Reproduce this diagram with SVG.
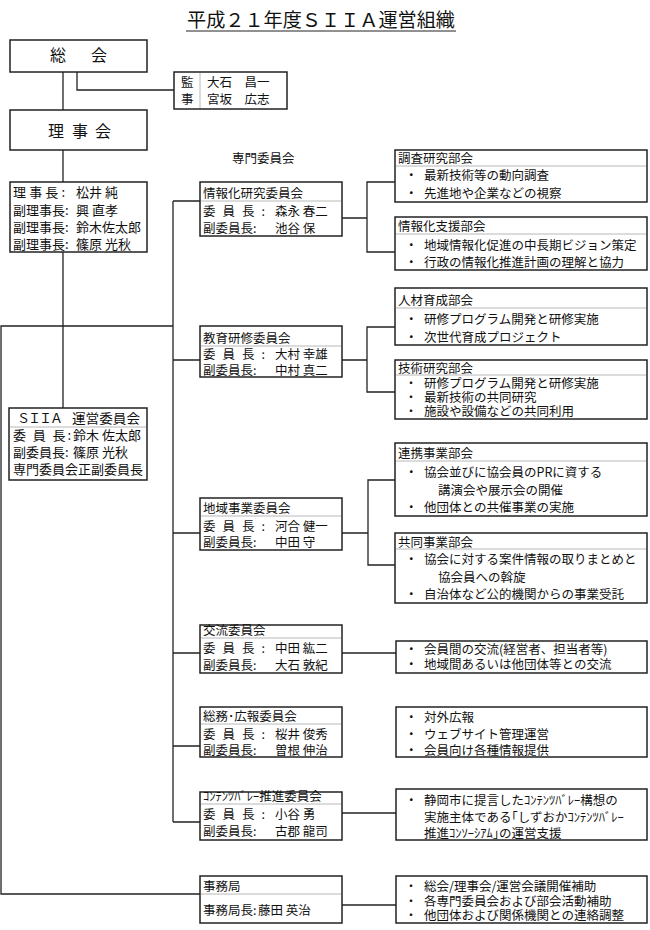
<svg xmlns="http://www.w3.org/2000/svg" width="650" height="930" viewBox="0 0 650 930">
<style>
.box{fill:#fff;stroke:#222;stroke-width:1.5}
.dv{stroke:#b8b8b8;stroke-width:1}
.ln{fill:none;stroke:#222;stroke-width:1.3}
text{font-family:"Noto Sans CJK JP","Noto Sans CJK SC",sans-serif;fill:#111;font-size:12.5px}
.l{font-size:13px}
.s{font-size:12px}
.big{font-size:16px}
.title{font-size:19px}
</style>
<rect width="650" height="930" fill="#fff"/>
<g id="title">
<text class="title" x="321" y="27" text-anchor="middle" textLength="268" lengthAdjust="spacingAndGlyphs">平成２１年度ＳＩＩＡ運営組織</text>
<line x1="186" y1="31" x2="456" y2="31" stroke="#222" stroke-width="1"/>
</g>
<g id="connectors" class="ln">
<path d="M77,72V90H174"/>
<path d="M63,72V110"/>
<path d="M63,150V182"/>
<path d="M63,252V408"/>
<path d="M173,326H1V894H200"/>
<path d="M173,201V822"/>
<path d="M173,201H200M173,360H200M173,533H200M173,653H200M173,746H200M173,822H200"/>
<path d="M342,218H367M395,182H367V252H395"/>
<path d="M342,360H367M395,327H367V392H395"/>
<path d="M342,533H368M395,480H368V565H395"/>
<path d="M342,653H396"/>
<path d="M342,813H396"/>
<path d="M342,905H396"/>
</g>
<g id="soukai">
<rect class="box" x="10" y="40" width="137" height="32"/>
<text class="big" x="50" y="61">総</text>
<text class="big" x="91" y="61">会</text>
</g>
<g id="kanji">
<rect class="box" x="174" y="72" width="113" height="37"/>
<line class="dv" x1="200" y1="73" x2="200" y2="108"/>
<text x="181" y="87">監</text>
<text x="181" y="104">事</text>
<text x="207" y="87">大石　昌一</text>
<text x="207" y="104">宮坂　広志</text>
</g>
<g id="rijikai">
<rect class="box" x="10" y="110" width="137" height="40"/>
<text class="big" x="48" y="137">理</text>
<text class="big" x="72" y="137">事</text>
<text class="big" x="95" y="137">会</text>
</g>
<g id="rijicho">
<rect class="box" x="10" y="182" width="137" height="70"/>
<text class="l" x="13" y="197" textLength="52" lengthAdjust="spacing">理 事 長 :</text>
<text class="l" x="76" y="197">松井 純</text>
<text class="l" x="13" y="215">副理事長:</text>
<text class="l" x="76" y="215">興 直孝</text>
<text class="l" x="13" y="232">副理事長:</text>
<text class="l" x="76" y="232">鈴木佐太郎</text>
<text class="l" x="13" y="249">副理事長:</text>
<text class="l" x="76" y="249">篠原 光秋</text>
</g>
<g id="siia">
<rect class="box" x="9" y="408" width="138" height="72"/>
<line class="dv" x1="10" y1="427" x2="146" y2="427"/>
<text class="l" x="17" y="423" textLength="46" lengthAdjust="spacing">ＳＩＩＡ</text>
<text class="l" x="72" y="423" textLength="68" lengthAdjust="spacingAndGlyphs">運営委員会</text>
<text class="l" x="13" y="440" textLength="58" lengthAdjust="spacing">委 員 長:</text>
<text class="l" x="73" y="440">鈴木 佐太郎</text>
<text class="l" x="13" y="457">副委員長:</text>
<text class="l" x="73" y="457">篠原 光秋</text>
<text class="l" x="13" y="474">専門委員会正副委員長</text>
</g>
<g id="senmon-label">
<text x="232" y="163">専門委員会</text>
</g>
<g id="jyohoka">
<rect class="box" x="200" y="182" width="142" height="54"/>
<line class="dv" x1="201" y1="201" x2="341" y2="201"/>
<text x="203" y="198">情報化研究委員会</text>
<text x="203" y="216" textLength="62" lengthAdjust="spacing">委 員 長 :</text>
<text x="275" y="216">森永 春二</text>
<text x="203" y="233">副委員長:</text>
<text x="275" y="233">池谷 保</text>
</g>
<g id="chousa">
<rect class="box" x="395" y="150" width="252" height="52"/>
<line class="dv" x1="396" y1="166" x2="646" y2="166"/>
<text x="398" y="163">調査研究部会</text>
<text x="405" y="180">・</text><text x="424" y="180">最新技術等の動向調査</text>
<text x="405" y="198">・</text><text x="424" y="198">先進地や企業などの視察</text>
</g>
<g id="shien">
<rect class="box" x="395" y="217" width="252" height="53"/>
<line class="dv" x1="396" y1="234" x2="646" y2="234"/>
<text x="398" y="231">情報化支援部会</text>
<text x="405" y="250">・</text><text x="424" y="250">地域情報化促進の中長期ビジョン策定</text>
<text x="405" y="267">・</text><text x="424" y="267">行政の情報化推進計画の理解と協力</text>
</g>
<g id="kyoiku">
<rect class="box" x="200" y="326" width="142" height="51"/>
<line class="dv" x1="201" y1="346" x2="341" y2="346"/>
<text x="203" y="343">教育研修委員会</text>
<text x="203" y="359" textLength="62" lengthAdjust="spacing">委 員 長 :</text>
<text x="275" y="359">大村 幸雄</text>
<text x="203" y="375">副委員長:</text>
<text x="275" y="375">中村 真二</text>
</g>
<g id="jinzai">
<rect class="box" x="395" y="288" width="252" height="57"/>
<line class="dv" x1="396" y1="308" x2="646" y2="308"/>
<text x="398" y="305">人材育成部会</text>
<text x="405" y="324">・</text><text x="424" y="324">研修プログラム開発と研修実施</text>
<text x="405" y="342">・</text><text x="424" y="342">次世代育成プロジェクト</text>
</g>
<g id="gijutsu">
<rect class="box" x="395" y="360" width="252" height="59"/>
<line class="dv" x1="396" y1="375" x2="646" y2="375"/>
<text x="398" y="373">技術研究部会</text>
<text class="s" x="405" y="388">・</text><text x="424" y="388">研修プログラム開発と研修実施</text>
<text class="s" x="405" y="402">・</text><text x="424" y="402">最新技術の共同研究</text>
<text class="s" x="405" y="416">・</text><text x="424" y="416">施設や設備などの共同利用</text>
</g>
<g id="chiiki">
<rect class="box" x="200" y="498" width="142" height="52"/>
<line class="dv" x1="201" y1="516" x2="341" y2="516"/>
<text x="203" y="513">地域事業委員会</text>
<text x="203" y="531" textLength="62" lengthAdjust="spacing">委 員 長 :</text>
<text x="275" y="531">河合 健一</text>
<text x="203" y="547">副委員長:</text>
<text x="275" y="547">中田 守</text>
</g>
<g id="renkei">
<rect class="box" x="395" y="443" width="252" height="73"/>
<line class="dv" x1="396" y1="461" x2="646" y2="461"/>
<text x="398" y="458">連携事業部会</text>
<text x="405" y="477">・</text><text x="424" y="477">協会並びに協会員のPRに資する</text>
<text x="438" y="495">講演会や展示会の開催</text>
<text x="405" y="512">・</text><text x="424" y="512">他団体との共催事業の実施</text>
</g>
<g id="kyodo">
<rect class="box" x="395" y="533" width="252" height="70"/>
<line class="dv" x1="396" y1="549" x2="646" y2="549"/>
<text x="398" y="547">共同事業部会</text>
<text x="405" y="564">・</text><text x="424" y="564">協会に対する案件情報の取りまとめと</text>
<text x="438" y="582">協会員への斡旋</text>
<text x="405" y="599">・</text><text x="424" y="599">自治体など公的機関からの事業受託</text>
</g>
<g id="koryu">
<rect class="box" x="200" y="625" width="142" height="48"/>
<line class="dv" x1="201" y1="638" x2="341" y2="638"/>
<text x="203" y="635">交流委員会</text>
<text x="203" y="653" textLength="62" lengthAdjust="spacing">委 員 長 :</text>
<text x="275" y="653">中田 紘二</text>
<text x="203" y="670">副委員長:</text>
<text x="275" y="670">大石 敦紀</text>
</g>
<g id="koryu-work">
<rect class="box" x="396" y="641" width="251" height="32"/>
<text x="405" y="654">・</text><text x="424" y="654">会員間の交流(経営者、担当者等)</text>
<text x="405" y="669">・</text><text x="424" y="669">地域間あるいは他団体等との交流</text>
</g>
<g id="somu">
<rect class="box" x="200" y="707" width="142" height="50"/>
<line class="dv" x1="201" y1="724" x2="341" y2="724"/>
<text x="203" y="721">総務･広報委員会</text>
<text x="203" y="739" textLength="62" lengthAdjust="spacing">委 員 長 :</text>
<text x="275" y="739">桜井 俊秀</text>
<text x="203" y="755">副委員長:</text>
<text x="275" y="755">曽根 伸治</text>
</g>
<g id="somu-work">
<rect class="box" x="396" y="707" width="251" height="50"/>
<text x="405" y="722">・</text><text x="424" y="722">対外広報</text>
<text x="405" y="739">・</text><text x="424" y="739">ウェブサイト管理運営</text>
<text x="405" y="755">・</text><text x="424" y="755">会員向け各種情報提供</text>
</g>
<g id="contents">
<rect class="box" x="200" y="792" width="142" height="48"/>
<line class="dv" x1="201" y1="804" x2="341" y2="804"/>
<text x="203" y="801">ｺﾝﾃﾝﾂﾊﾞﾚｰ推進委員会</text>
<text x="203" y="819" textLength="62" lengthAdjust="spacing">委 員 長 :</text>
<text x="275" y="819">小谷 勇</text>
<text x="203" y="836">副委員長:</text>
<text x="275" y="836">古郡 龍司</text>
</g>
<g id="contents-work">
<rect class="box" x="396" y="789" width="251" height="51"/>
<text x="405" y="805">・</text><text x="424" y="805">静岡市に提言したｺﾝﾃﾝﾂﾊﾞﾚｰ構想の</text>
<text x="424" y="822">実施主体である｢しずおかｺﾝﾃﾝﾂﾊﾞﾚｰ</text>
<text x="424" y="838">推進ｺﾝｿｰｼｱﾑ｣の運営支援</text>
</g>
<g id="jimukyoku">
<rect class="box" x="200" y="876" width="142" height="47"/>
<line class="dv" x1="201" y1="894" x2="341" y2="894"/>
<text x="203" y="891">事務局</text>
<text x="203" y="915">事務局長:</text>
<text x="258" y="915">藤田 英治</text>
</g>
<g id="jimukyoku-work">
<rect class="box" x="396" y="876" width="251" height="47"/>
<text class="s" x="405" y="891">・</text><text x="424" y="891">総会/理事会/運営会議開催補助</text>
<text class="s" x="405" y="906">・</text><text x="424" y="906">各専門委員会および部会活動補助</text>
<text class="s" x="405" y="920">・</text><text x="424" y="920">他団体および関係機関との連絡調整</text>
</g>
</svg>
